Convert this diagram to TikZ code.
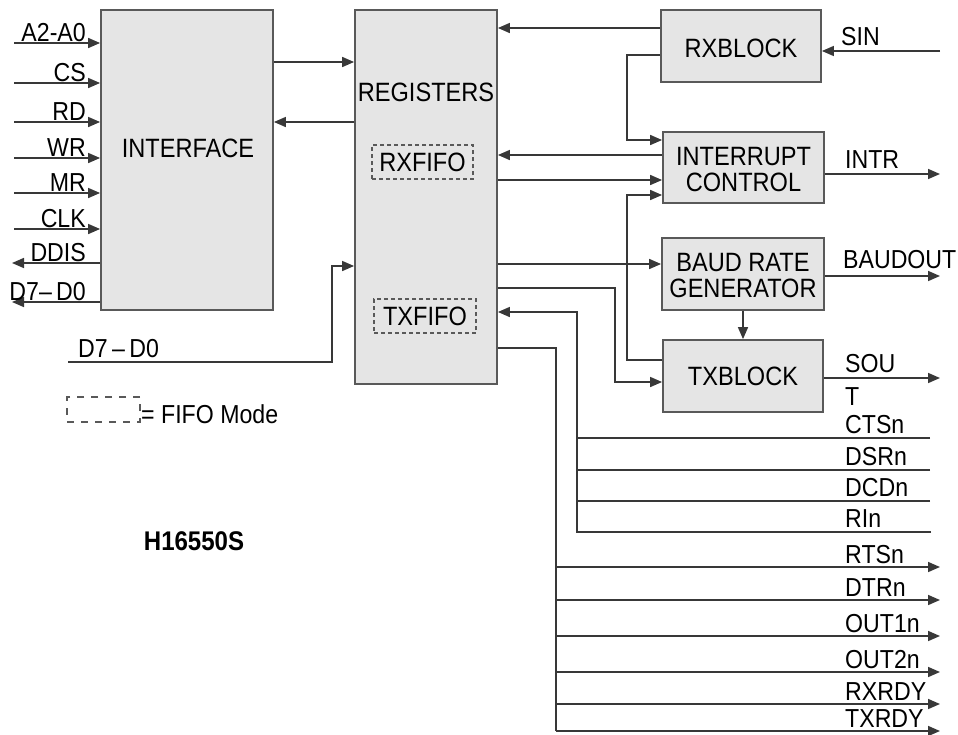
\documentclass[tikz,border=0pt]{standalone}
\usepackage{fontspec}
\setmainfont[FakeStretch=0.89]{Liberation Sans}
\usetikzlibrary{arrows.meta}
\begin{document}
\begin{tikzpicture}[x=1pt,y=-1pt,
  >={Triangle[length=12pt,width=10pt]},
  blk/.style={draw=black!65, fill=black!10, line width=1.8pt, inner sep=0pt},
  txt/.style={font=\fontsize{26.5}{26}\selectfont, align=center, inner sep=0pt},
  fifo/.style={draw=black!65, dash pattern=on 4pt off 3pt, line width=1.2pt, inner sep=0pt},
  lbl/.style={font=\fontsize{26}{25}\selectfont, inner sep=0pt},
  wire/.style={draw=black!78, line width=1.6pt}]
\useasboundingbox (0,0) rectangle (958,734);

% ---- blocks
\node[blk, minimum width=172pt, minimum height=300pt] (iface) at (187,160) {};
\node[txt] (ifacet) at (188,148) {INTERFACE};
\node[blk, minimum width=142pt, minimum height=374pt] (regs) at (426,197) {};
\node[txt] (regst) at (426,92) {REGISTERS};
\node[fifo, minimum width=101pt, minimum height=34pt] (rxfifo) at (422.5,162) {};
\node[txt] (rxfifot) at (422.5,162) {RXFIFO};
\node[fifo, minimum width=102pt, minimum height=34pt] (txfifo) at (425,316) {};
\node[txt] (txfifot) at (425,316) {TXFIFO};

\node[blk, minimum width=160pt, minimum height=72pt] (rxb) at (741,46) {};
\node[txt] (rxbt) at (741,48) {RXBLOCK};
\node[blk, minimum width=161pt, minimum height=71pt] (intc) at (743.5,167.5) {};
\node[txt] (intct) at (743.5,170) {INTERRUPT\\CONTROL};
\node[blk, minimum width=162pt, minimum height=72pt] (baud) at (743,274) {};
\node[txt] (baudt) at (743,276) {BAUD RATE\\GENERATOR};
\node[blk, minimum width=160pt, minimum height=72pt] (txb) at (743,376) {};
\node[txt] (txbt) at (743,376) {TXBLOCK};

% ---- left side signals
\foreach \n/\y/\t in {a/43/A2-A0, cs/83/CS, rd/122/RD, wr/158/WR, mr/193/MR, clk/229/CLK}{
  \coordinate (in\n) at (14,\y);
  \draw[wire,->] (in\n) -- (iface.west |- 0,\y);
  \node[lbl, anchor=base east] (l\n) at (86,\y-2) {\t};
}
\coordinate (ddis) at (12,263);
\draw[wire,->] (iface.west |- 0,263) -- (ddis);
\node[lbl, anchor=base east] (lddis) at (86,261) {DDIS};
\coordinate (dbl) at (12,302);
\draw[wire,->] (iface.west |- 0,302) -- (dbl);
\node[lbl, anchor=base east] (ldbl) at (86,300) {D7–\,D0};

% ---- interface <-> registers
\draw[wire,->] (iface.east |- 0,62) -- (regs.west |- 0,62);
\draw[wire,->] (regs.west |- 0,122) -- (iface.east |- 0,122);
\coordinate (dbus) at (68,362);
\draw[wire,->] (dbus) -- (332,362) -- (332,266) -- (regs.west |- 0,266);
\node[lbl, anchor=base west] (ldbus) at (78,357) {D7\,–\,D0};

% ---- RX block
\draw[wire,->] (rxb.west |- 0,28) -- (regs.east |- 0,28);
\draw[wire,->] (rxb.west |- 0,55) -- (627,55) -- (627,140) -- (intc.west |- 0,140);
\coordinate (sin) at (940,51);
\draw[wire,->] (sin) -- (rxb.east |- 0,51);
\node[lbl, anchor=base west] (lsin) at (841,45) {SIN};

% ---- interrupt control
\draw[wire,->] (intc.west |- 0,155) -- (regs.east |- 0,155);
\draw[wire,->] (regs.east |- 0,180) -- (intc.west |- 0,180);
\draw[wire,->] (txb.west |- 0,360) -- (627,360) -- (627,195) -- (intc.west |- 0,195);
\coordinate (intr) at (940,174);
\draw[wire,->] (intc.east |- 0,174) -- (intr);
\node[lbl, anchor=base west] (lintr) at (845,168) {INTR};

% ---- baud rate generator
\draw[wire,->] (regs.east |- 0,264) -- (baud.west |- 0,264);
\coordinate (baudout) at (940,276);
\draw[wire,->] (baud.east |- 0,276) -- (baudout);
\node[lbl, anchor=base west] (lbaud) at (843,268) {BAUDOUT};
\draw[wire,->] (baud.south) -- (txb.north);

% ---- TX block
\draw[wire,->] (regs.east |- 0,288) -- (615,288) -- (615,382) -- (txb.west |- 0,382);
\coordinate (sout) at (940,378);
\draw[wire,->] (txb.east |- 0,378) -- (sout);
\node[lbl, anchor=base west] (lsou) at (845,372) {SOU};
\node[lbl, anchor=base west] (lsout) at (845,405) {T};

% ---- modem inputs
\foreach \n/\y/\t in {cts/438/CTSn, dsr/470/DSRn, dcd/501/DCDn}{
  \coordinate (\n) at (930,\y);
  \draw[wire] (\n) -- (577,\y);
  \node[lbl, anchor=base west] (l\n) at (845,\y-5) {\t};
}
\coordinate (ri) at (931,532);
\draw[wire,->] (ri) -- (577,532) -- (577,312) -- (regs.east |- 0,312);
\node[lbl, anchor=base west] (lri) at (845,527) {RIn};

% ---- modem outputs
\draw[wire] (regs.east |- 0,348) -- (556,348) -- (556,731);
\foreach \n/\y/\t in {rts/567/RTSn, dtr/600/DTRn, outa/636/OUT1n, outb/672/OUT2n, rxr/704/RXRDY, txr/731/TXRDY}{
  \coordinate (\n) at (940,\y);
  \draw[wire,->] (556,\y) -- (\n);
  \node[lbl, anchor=base west] (l\n) at (845,\y-4) {\t};
}

% ---- legend
\node[fifo, dash pattern=on 7pt off 7pt, minimum width=73pt, minimum height=25pt] (legbox) at (103.5,409.5) {};
\node[lbl, anchor=west] (legt) at (141,414) {= FIFO Mode};
\node[lbl, anchor=center, font=\bfseries\fontsize{27}{25}\selectfont] (chip) at (194,541.5) {H16550S};
\end{tikzpicture}
\end{document}
